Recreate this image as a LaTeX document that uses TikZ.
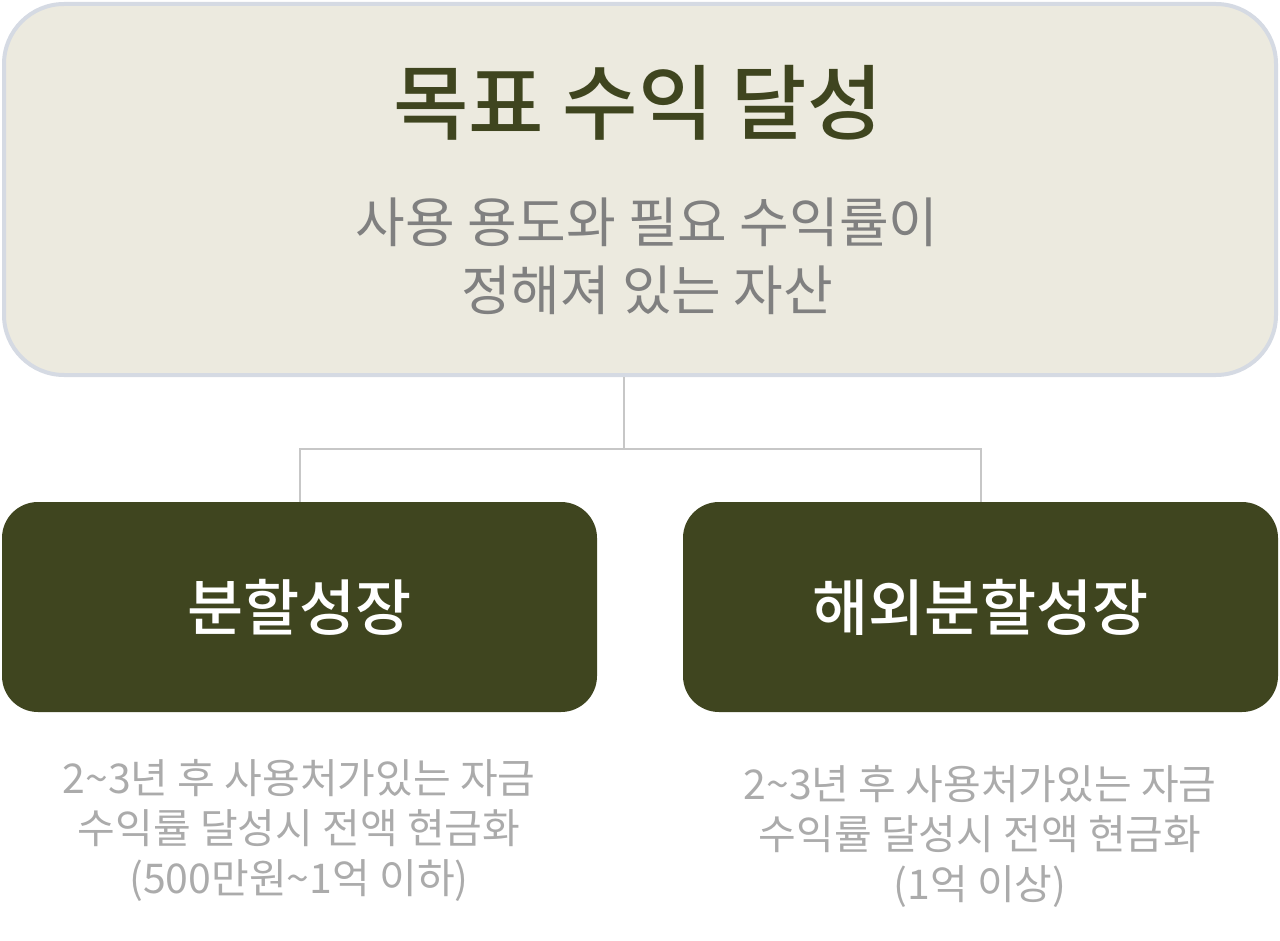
\documentclass[tikz,border=0pt]{standalone}
\usepackage{fontspec}
\newfontfamily\kr{Noto Sans CJK KR}
\newfontfamily\krmed{Noto Sans CJK KR Medium}
\usetikzlibrary{positioning}
\definecolor{olive}{HTML}{3F451F}
\definecolor{paper}{HTML}{ECEADF}
\definecolor{rim}{HTML}{D5DAE3}

\begin{document}
\begin{tikzpicture}[x=1pt,y=-1pt,font=\kr,
  goalbox/.style={draw=rim,line width=4pt,fill=paper,rounded corners=60pt,minimum width=1272pt,minimum height=371pt},
  planbox/.style={fill=olive,rounded corners=36pt,minimum width=595pt,minimum height=210pt,text=white,font=\krmed\fontsize{61}{70}\selectfont},
  note/.style={text=black!33,align=center,font=\kr\fontsize{41}{50}\selectfont},
  link/.style={draw=black!22,line width=2pt}]
  \useasboundingbox (0,0) rectangle (1280,941);
  \node[goalbox] (goal) at (640,189.5) {};
  \node[text=olive,font=\krmed\fontsize{82}{90}\selectfont] (title) at (638,103) {목표 수익 달성};
  \node[text=black!50,align=center,font=\kr\fontsize{54}{68}\selectfont] (sub) at (647,256) {사용 용도와 필요 수익률이\\정해져 있는 자산};
  \node[planbox] (split) at (299.5,607) {분할성장};
  \node[planbox] (abroad) at (980.5,607) {해외분할성장};
  \coordinate (hub) at (624,449);
  \draw[link] (goal.south -| hub) -- (hub);
  \draw[link] (split.north) |- (hub) -| (abroad.north);
  \node[note] (splitnote) at (299,830) {2\textasciitilde3년 후 사용처가있는 자금\\수익률 달성시 전액 현금화\\(500만원\textasciitilde1억 이하)};
  \node[note] (abroadnote) at (980,836) {2\textasciitilde3년 후 사용처가있는 자금\\수익률 달성시 전액 현금화\\(1억 이상)};
\end{tikzpicture}
\end{document}
